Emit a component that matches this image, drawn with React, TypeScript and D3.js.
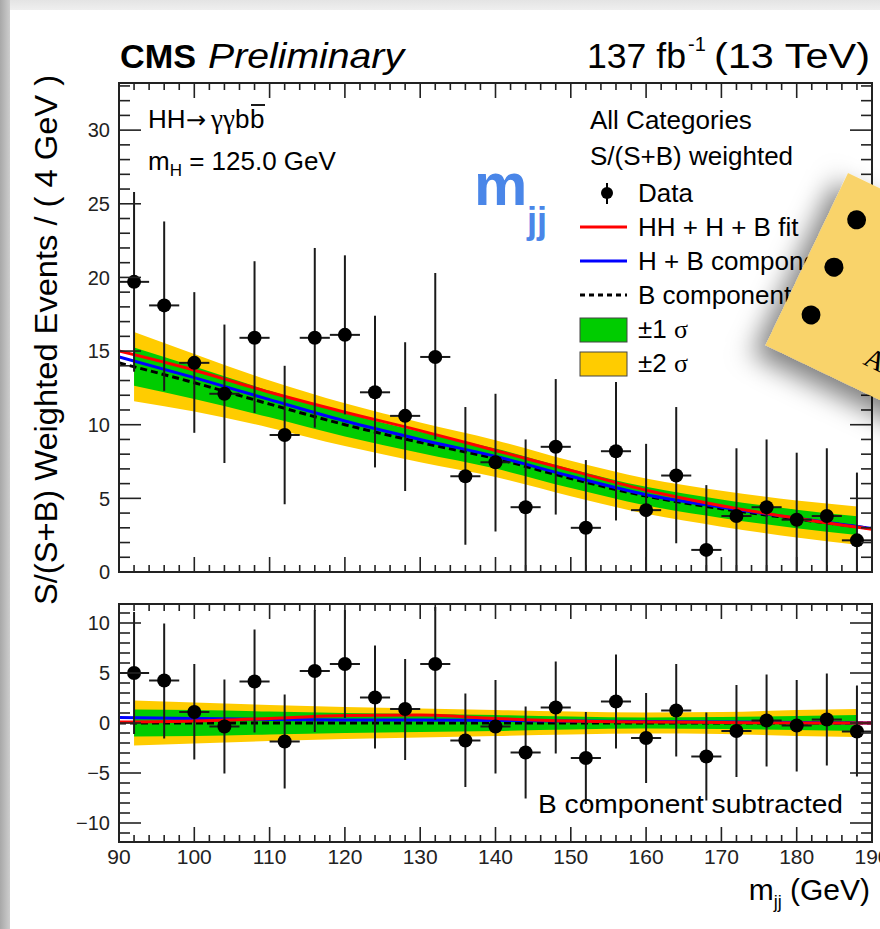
import React from "react";
import * as d3 from "d3";

// ---------- data ----------
const massBins = [92, 96, 100, 104, 108, 112, 116, 120, 124, 128, 132, 136, 140, 144, 148, 152, 156, 160, 164, 168, 172, 176, 180, 184, 188];
const dataWeighted = [19.7, 18.1, 14.2, 12.1, 15.9, 9.3, 15.9, 16.1, 12.2, 10.6, 14.6, 6.5, 7.45, 4.4, 8.5, 3.0, 8.2, 4.2, 6.55, 1.5, 3.8, 4.4, 3.55, 3.8, 2.15];
const dataErrUp = [6.1, 5.7, 4.8, 4.7, 5.2, 4.7, 6.1, 5.4, 5.2, 5.0, 5.7, 4.7, 4.65, 4.6, 4.6, 4.6, 4.7, 4.5, 4.65, 4.4, 4.6, 4.6, 4.55, 4.6, 4.6];
const dataErrDown = [6.1, 5.8, 4.75, 4.7, 5.1, 4.7, 6.1, 5.4, 5.1, 5.1, 5.6, 4.65, 4.7, 4.6, 4.6, 4.6, 4.7, 4.5, 4.6, 4.4, 4.6, 4.6, 4.6, 4.6, 4.5];
const dataSubtracted = [5.0, 4.25, 1.1, -0.35, 4.15, -1.85, 5.2, 5.9, 2.55, 1.4, 5.9, -1.75, -0.35, -2.95, 1.55, -3.5, 2.15, -1.5, 1.25, -3.35, -0.8, 0.25, -0.25, 0.35, -0.85];

const curveMass = [90, 100, 110, 120, 130, 140, 150, 160, 170, 180, 190];
const fitTotal = [15.0, 13.7, 12.2, 10.85, 9.6, 8.25, 6.9, 5.55, 4.5, 3.65, 2.9];
const fitHB = [14.6, 13.2, 11.7, 10.25, 9.0, 7.85, 6.5, 5.25, 4.4, 3.65, 2.95];
const fitB = [14.2, 12.85, 11.4, 10.0, 8.8, 7.7, 6.35, 5.15, 4.3, 3.6, 2.95];
const subFitTotal = [0.1, 0.2, 0.45, 0.75, 0.8, 0.45, 0.2, 0.1, 0.05, 0.0, 0.0];
const subFitHB = [0.55, 0.45, 0.35, 0.3, 0.3, 0.25, 0.2, 0.15, 0.1, 0.05, 0.0];

const bandMass = [92, 100, 110, 120, 130, 140, 150, 160, 170, 180, 188];
const bandCenter = [13.95, 12.85, 11.4, 10.0, 8.8, 7.7, 6.35, 5.15, 4.3, 3.6, 3.15];
const band1Sigma = [1.3, 1.1, 0.9, 0.8, 0.72, 0.68, 0.65, 0.63, 0.63, 0.63, 0.63];
const band2Sigma = [2.35, 1.95, 1.6, 1.45, 1.35, 1.25, 1.2, 1.2, 1.22, 1.25, 1.3];
const subBand1Sigma = [1.35, 1.3, 1.15, 1.0, 0.9, 0.8, 0.65, 0.55, 0.6, 0.7, 0.8];
const subBand2Sigma = [2.25, 2.05, 1.8, 1.6, 1.45, 1.3, 1.15, 1.05, 1.1, 1.3, 1.4];

const xTickLabels = [90, 100, 110, 120, 130, 140, 150, 160, 170, 180, 190];
const yTickLabelsTop = [0, 5, 10, 15, 20, 25, 30];
const yTickLabelsBottom = [-10, -5, 0, 5, 10];

// ---------- layout ----------
const X0 = 119, X1 = 872;
const T_TOP = 83, T_BOT = 572;
const B_TOP = 604, B_BOT = 842;
const SANS = "'Liberation Sans', Arial, Helvetica, sans-serif";
const SERIF = "'Liberation Serif', 'DejaVu Serif', 'Times New Roman', serif";
const GREEN = "#00cc00";
const YELLOW = "#ffcc00";

const x = d3.scaleLinear().domain([90, 190]).range([X0, X1]);
const yTop = d3.scaleLinear().domain([0, 33.2]).range([T_BOT, T_TOP]);
const yBot = d3.scaleLinear().domain([-11.9, 11.9]).range([B_BOT, B_TOP]);

function bandPath(y: d3.ScaleLinear<number, number>, center: number[], half: number[]) {
  const area = d3
    .area<number>()
    .x((_, i) => x(bandMass[i]))
    .y0((_, i) => y(center[i] - half[i]))
    .y1((_, i) => y(center[i] + half[i]))
    .curve(d3.curveMonotoneX);
  return area(bandMass) || "";
}

function linePath(y: d3.ScaleLinear<number, number>, vals: number[]) {
  const line = d3
    .line<number>()
    .x((m) => x(m))
    .y((_, i) => y(vals[i]))
    .curve(d3.curveMonotoneX);
  return line(curveMass) || "";
}

function Frame({ top, bottom, y, yMin, yMax }: any) {
  const xs = d3.range(90, 190.001, 2);
  const ys = d3.range(Math.ceil(yMin), Math.floor(yMax) + 1, 1);
  const els: any[] = [];
  xs.forEach((v, i) => {
    const major = Math.round(v) % 10 === 0;
    const len = major ? 15 : 7;
    els.push(<line key={"xb" + i} x1={x(v)} x2={x(v)} y1={bottom} y2={bottom - len} />);
    els.push(<line key={"xt" + i} x1={x(v)} x2={x(v)} y1={top} y2={top + len} />);
  });
  ys.forEach((v, i) => {
    const major = Math.abs(v) % 5 === 0;
    const len = major ? 22 : 11;
    els.push(<line key={"yl" + i} x1={X0} x2={X0 + len} y1={y(v)} y2={y(v)} />);
    els.push(<line key={"yr" + i} x1={X1} x2={X1 - len} y1={y(v)} y2={y(v)} />);
  });
  return (
    <g stroke="#222" strokeWidth={1.6} fill="none">
      {els}
      <rect x={X0} y={top} width={X1 - X0} height={bottom - top} strokeWidth={2} />
    </g>
  );
}

function DataPoints({ y, vals, clip }: any) {
  return (
    <g clipPath={clip}>
      {massBins.map((m, i) => (
        <g key={i} stroke="#1a1a1a" strokeWidth={2}>
          <line x1={x(m)} x2={x(m)} y1={y(vals[i] + dataErrUp[i])} y2={y(vals[i] - dataErrDown[i])} />
          <line x1={x(m - 2)} x2={x(m + 2)} y1={y(vals[i])} y2={y(vals[i])} />
          <circle cx={x(m)} cy={y(vals[i])} r={7} fill="#000" stroke="none" />
        </g>
      ))}
    </g>
  );
}

export default function App() {
  const zeros = curveMass.map(() => 0);
  const subCenter = bandMass.map(() => 0);
  const legendRows = [
    { label: "HH + H + B fit", color: "#ff0000", dash: undefined, y: 227 },
    { label: "H + B component", color: "#0000ff", dash: undefined, y: 261 },
    { label: "B component", color: "#000", dash: "5 4", y: 295 },
  ];
  return (
    <svg width={880} height={929} style={{ position: "absolute", left: 0, top: 0 }} fontFamily={SANS}>
      <defs>
        <linearGradient id="leftStrip" x1="0" x2="1" y1="0" y2="0">
          <stop offset="0" stopColor="#a8a8a8" />
          <stop offset="1" stopColor="#cdcdcd" />
        </linearGradient>
        <linearGradient id="topStrip" x1="0" x2="0" y1="0" y2="1">
          <stop offset="0" stopColor="#e4e4e4" />
          <stop offset="1" stopColor="#efefef" />
        </linearGradient>
        <filter id="cardShadow" x="-50%" y="-50%" width="200%" height="200%">
          <feDropShadow dx={-8} dy={14} stdDeviation={13} floodColor="#000" floodOpacity={0.5} />
        </filter>
        <clipPath id="clipTop">
          <rect x={X0} y={T_TOP} width={X1 - X0} height={T_BOT - T_TOP} />
        </clipPath>
        <clipPath id="clipBot">
          <rect x={X0} y={B_TOP} width={X1 - X0} height={B_BOT - B_TOP} />
        </clipPath>
      </defs>

      {/* page background */}
      <rect x={0} y={0} width={880} height={929} fill="#ffffff" />
      <rect x={0} y={0} width={880} height={10} fill="url(#topStrip)" />
      <rect x={0} y={0} width={10} height={929} fill="url(#leftStrip)" />

      {/* header */}
      <text x={120} y={68} fontSize={34} fontWeight="bold" textLength={76} lengthAdjust="spacingAndGlyphs">CMS</text>
      <text x={208} y={68} fontSize={35} fontStyle="italic" textLength={196} lengthAdjust="spacingAndGlyphs">Preliminary</text>
      <text x={587} y={68} fontSize={35} textLength={99} lengthAdjust="spacingAndGlyphs">137 fb</text>
      <text x={688} y={51} fontSize={20}>-1</text>
      <text x={714} y={68} fontSize={35} textLength={156} lengthAdjust="spacingAndGlyphs">(13 TeV)</text>

      {/* ---------- top panel ---------- */}
      <g clipPath="url(#clipTop)">
        <path d={bandPath(yTop, bandCenter, band2Sigma)} fill={YELLOW} />
        <path d={bandPath(yTop, bandCenter, band1Sigma)} fill={GREEN} />
        <path d={linePath(yTop, fitB)} fill="none" stroke="#000" strokeWidth={3} strokeDasharray="7 4" />
        <path d={linePath(yTop, fitHB)} fill="none" stroke="#0000ff" strokeWidth={3} />
        <path d={linePath(yTop, fitTotal)} fill="none" stroke="#ff0000" strokeWidth={3} />
      </g>
      <DataPoints y={yTop} vals={dataWeighted} clip="url(#clipTop)" />
      <Frame top={T_TOP} bottom={T_BOT} y={yTop} yMin={0} yMax={33.2} />

      {yTickLabelsTop.map((v) => (
        <text key={v} x={110} y={yTop(v)} dy="0.36em" fontSize={20} textAnchor="end" fill="#222">{v}</text>
      ))}

      {/* panel texts */}
      <text x={148} y={128} fontSize={26}>HH</text>
      <text x={186} y={128} fontSize={24} fontFamily="'DejaVu Sans', sans-serif">→</text>
      <text x={211} y={128} fontSize={27} fontFamily={SERIF}>γγ</text>
      <text x={235} y={128} fontSize={26}>b</text>
      <text x={250} y={128} fontSize={26}>b</text>
      <line x1={251} x2={265} y1={105} y2={105} stroke="#000" strokeWidth={1.8} />
      <text x={148} y={170} fontSize={26}>
        m<tspan fontSize={17} dy={6}>H</tspan><tspan dy={-6}> = 125.0 GeV</tspan>
      </text>

      {/* legend */}
      <text x={590} y={129} fontSize={26}>All Categories</text>
      <text x={590} y={165} fontSize={26}>S/(S+B) weighted</text>
      <line x1={607} x2={607} y1={183} y2={204} stroke="#000" strokeWidth={2} />
      <circle cx={607} cy={193} r={6} fill="#000" />
      <text x={638} y={202} fontSize={26}>Data</text>
      {legendRows.map((r) => (
        <g key={r.label}>
          <line x1={580} x2={627} y1={r.y} y2={r.y} stroke={r.color} strokeWidth={3} strokeDasharray={r.dash} />
          <text x={638} y={r.y + 9} fontSize={26}>{r.label}</text>
        </g>
      ))}
      <rect x={580} y={318} width={47} height={24} fill={GREEN} stroke="#444" strokeWidth={1} />
      <text x={638} y={338} fontSize={26}>±1 <tspan fontFamily={SERIF}>σ</tspan></text>
      <rect x={580} y={352} width={47} height={24} fill={YELLOW} stroke="#444" strokeWidth={1} />
      <text x={638} y={372} fontSize={26}>±2 <tspan fontFamily={SERIF}>σ</tspan></text>

      {/* ---------- bottom panel ---------- */}
      <g clipPath="url(#clipBot)">
        <path d={bandPath(yBot, subCenter, subBand2Sigma)} fill={YELLOW} />
        <path d={bandPath(yBot, subCenter, subBand1Sigma)} fill={GREEN} />
        <path d={linePath(yBot, zeros)} fill="none" stroke="#000" strokeWidth={3} strokeDasharray="7 4" />
        <path d={linePath(yBot, subFitHB)} fill="none" stroke="#0000ff" strokeWidth={3} />
        <path d={linePath(yBot, subFitTotal)} fill="none" stroke="#ff0000" strokeWidth={3} />
      </g>
      <DataPoints y={yBot} vals={dataSubtracted} clip="url(#clipBot)" />
      <Frame top={B_TOP} bottom={B_BOT} y={yBot} yMin={-11.9} yMax={11.9} />
      {yTickLabelsBottom.map((v) => (
        <text key={v} x={110} y={yBot(v)} dy="0.36em" fontSize={20} textAnchor="end" fill="#222">
          {v < 0 ? "−" + Math.abs(v) : v}
        </text>
      ))}
      <text x={538} y={813} fontSize={26} textLength={305} lengthAdjust="spacingAndGlyphs">B component subtracted</text>

      {/* x axis */}
      {xTickLabels.map((v) => (
        <text key={v} x={x(v)} y={864} fontSize={21} textAnchor="middle" fill="#222">{v}</text>
      ))}
      <text x={870} y={900} fontSize={30} textAnchor="end">
        m<tspan fontSize={18} dy={8}>jj</tspan><tspan dy={-8}> (GeV)</tspan>
      </text>

      {/* y axis title */}
      <text
        transform="translate(57,340) rotate(-90)"
        fontSize={31}
        textAnchor="middle"
        textLength={530}
        lengthAdjust="spacingAndGlyphs"
      >
        S/(S+B) Weighted Events / ( 4 GeV )
      </text>

      {/* slide overlay: blue label */}
      <text x={474} y={205} fontSize={60} fontWeight="bold" fill="#4a86e8">m</text>
      <text x={527} y={233} fontSize={36} fontWeight="bold" fill="#4a86e8">jj</text>

      {/* slide overlay: yellow card */}
      <g transform="translate(848,173) rotate(25.6)">
        <rect x={0} y={0} width={320} height={191} fill="#f9d36b" filter="url(#cardShadow)" />
        <circle cx={28} cy={38.5} r={9.5} fill="#000" />
        <circle cx={28} cy={91} r={9.5} fill="#000" />
        <circle cx={28} cy={144} r={9.5} fill="#000" />
        <text x={95} y={166} fontSize={28} fontFamily={SERIF}>A</text>
      </g>
    </svg>
  );
}
